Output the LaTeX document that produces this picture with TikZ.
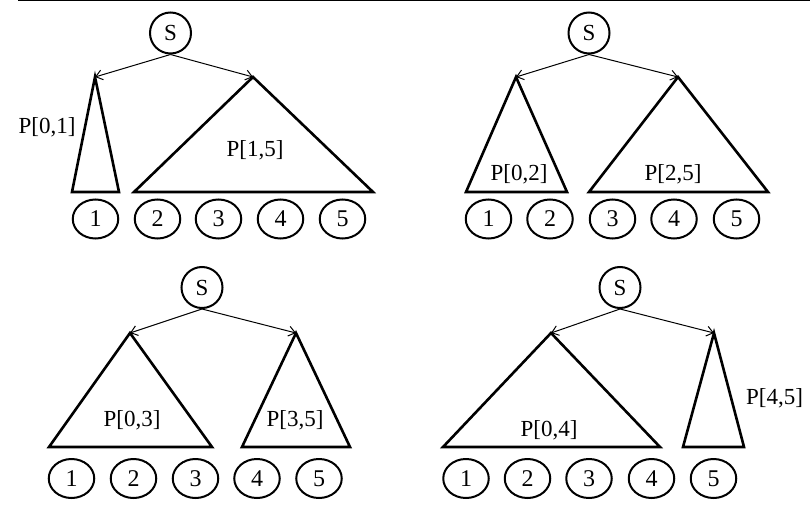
\documentclass[tikz,border=0pt]{standalone}
\usepackage{fontspec}
\setmainfont{Liberation Serif}
\usetikzlibrary{shapes.geometric,arrows.meta}
\begin{document}
\begin{tikzpicture}[x=1pt,y=-1pt,
  root/.style={draw,circle,line width=2pt,minimum size=41pt,inner sep=0pt,font=\fontsize{23}{23}\selectfont},
  leaf/.style={draw,ellipse,line width=2pt,minimum width=45.5pt,minimum height=39pt,inner sep=0pt,font=\fontsize{24}{24}\selectfont},
  part/.style={draw,line width=2.6pt,line join=miter},
  lbl/.style={anchor=base,inner sep=0pt,font=\fontsize{23}{23}\selectfont},
  edge/.style={line width=1pt,-{Straight Barb[length=6.5pt,width=10pt]}},
  rulestyle/.style={line width=1.4pt}]
\useasboundingbox (0,0) rectangle (810,505);

% rule along the top
\coordinate (r1) at (18,0.7);
\coordinate (r2) at (810,0.7);
\draw[rulestyle] (r1) -- (r2);

% ---- split after 1 ----
\node[root] (sA) at (170.5,33) {S};
\coordinate (tA1) at (95,77);
\coordinate (tA2) at (253,77);
\draw[part] (tA1) -- (72,192) -- (119,192) -- cycle;
\draw[part] (tA2) -- (134,192) -- (373,192) -- cycle;
\draw[edge] (sA.south) -- (tA1);
\draw[edge] (sA.south) -- (tA2);
\foreach \x [count=\i] in {95.5,157.5,218.5,280.5,342.5}
  \node[leaf] (lA\i) at (\x,219) {\i};
\node[lbl] (pA1) at (47,133.3) {P[0,1]};
\node[lbl] (pA2) at (255,157) {P[1,5]};

% ---- split after 2 ----
\node[root] (sB) at (589,33) {S};
\coordinate (tB1) at (516,77);
\coordinate (tB2) at (678,77);
\draw[part] (tB1) -- (466,192) -- (567,192) -- cycle;
\draw[part] (tB2) -- (589,192) -- (768,192) -- cycle;
\draw[edge] (sB.south) -- (tB1);
\draw[edge] (sB.south) -- (tB2);
\foreach \x [count=\i] in {488.5,550,612.5,674,736.5}
  \node[leaf] (lB\i) at (\x,219) {\i};
\node[lbl] (pB1) at (519,180) {P[0,2]};
\node[lbl] (pB2) at (673,180) {P[2,5]};

% ---- split after 3 ----
\node[root] (sC) at (202,287.5) {S};
\coordinate (tC1) at (130,333);
\coordinate (tC2) at (296,333);
\draw[part] (tC1) -- (49,447) -- (212,447) -- cycle;
\draw[part] (tC2) -- (242,447) -- (350,447) -- cycle;
\draw[edge] (sC.south) -- (tC1);
\draw[edge] (sC.south) -- (tC2);
\foreach \x [count=\i] in {71.5,133.5,195.5,257,319}
  \node[leaf] (lC\i) at (\x,478.5) {\i};
\node[lbl] (pC1) at (132,426.7) {P[0,3]};
\node[lbl] (pC2) at (295,426.7) {P[3,5]};

% ---- split after 4 ----
\node[root] (sD) at (620,287.5) {S};
\coordinate (tD1) at (551,333);
\coordinate (tD2) at (714,333);
\draw[part] (tD1) -- (443,447) -- (660,447) -- cycle;
\draw[part] (tD2) -- (683,447) -- (744,447) -- cycle;
\draw[edge] (sD.south) -- (tD1);
\draw[edge] (sD.south) -- (tD2);
\foreach \x [count=\i] in {466,527.5,589,651.5,713.5}
  \node[leaf] (lD\i) at (\x,478.5) {\i};
\node[lbl] (pD1) at (549,436) {P[0,4]};
\node[lbl] (pD2) at (774.5,404.3) {P[4,5]};
\end{tikzpicture}
\end{document}
